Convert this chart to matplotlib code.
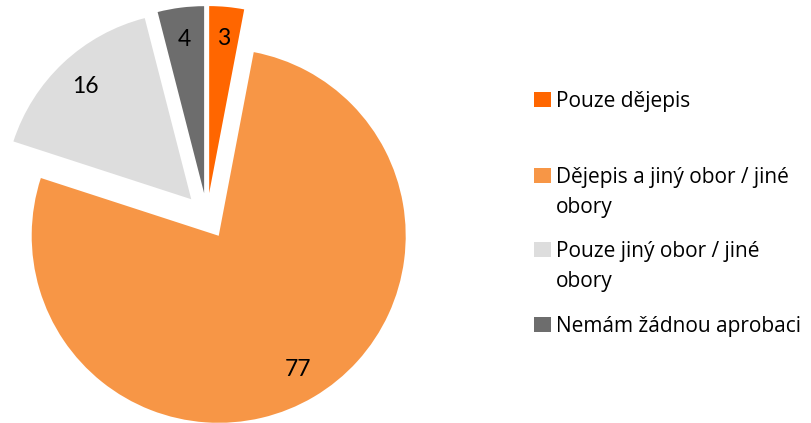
import matplotlib
matplotlib.use('Agg')
import matplotlib.pyplot as plt
from matplotlib.patches import Rectangle

plt.rcParams['font.family'] = ['Lato', 'DejaVu Sans']

# data
kategorie = ['Pouze dějepis',
             'Dějepis a jiný obor / jiné\nobory',
             'Pouze jiný obor / jiné\nobory',
             'Nemám žádnou aprobaci']
hodnoty = [3, 77, 16, 4]
barvy = ['#FF6600', '#F79646', '#DDDDDD', '#6D6D6D']

W, H = 811, 423
fig = plt.figure(figsize=(W / 100, H / 100), dpi=100)
ax = fig.add_axes([0, 0, 1, 1])
ax.set_xlim(0, W)
ax.set_ylim(0, H)
ax.set_aspect('equal')
ax.axis('off')

wedges, texts, autotexts = ax.pie(
    hodnoty, colors=barvy, startangle=90, counterclock=False,
    center=(207, H - 216), radius=187, explode=[23] * len(hodnoty),
    autopct=lambda p: f'{p:.0f}', pctdistance=0.83,
    textprops={'fontsize': 16.5, 'color': 'black'},
    wedgeprops={'linewidth': 0})
ax.set_xlim(0, W)
ax.set_ylim(0, H)

# legenda vpravo
leg_y = [107, 183, 257, 332]  # baseline prvniho radku (pixely od shora)
for kat, barva, y in zip(kategorie, barvy, leg_y):
    ax.add_patch(Rectangle((534, H - y), 17, 15, color=barva, lw=0))
    for i, radek in enumerate(kat.split('\n')):
        ax.text(556, H - y - 30 * i, radek, fontsize=15, va='baseline',
                ha='left', family=['Open Sans', 'DejaVu Sans'])

fig.savefig('out.png', dpi=100)
